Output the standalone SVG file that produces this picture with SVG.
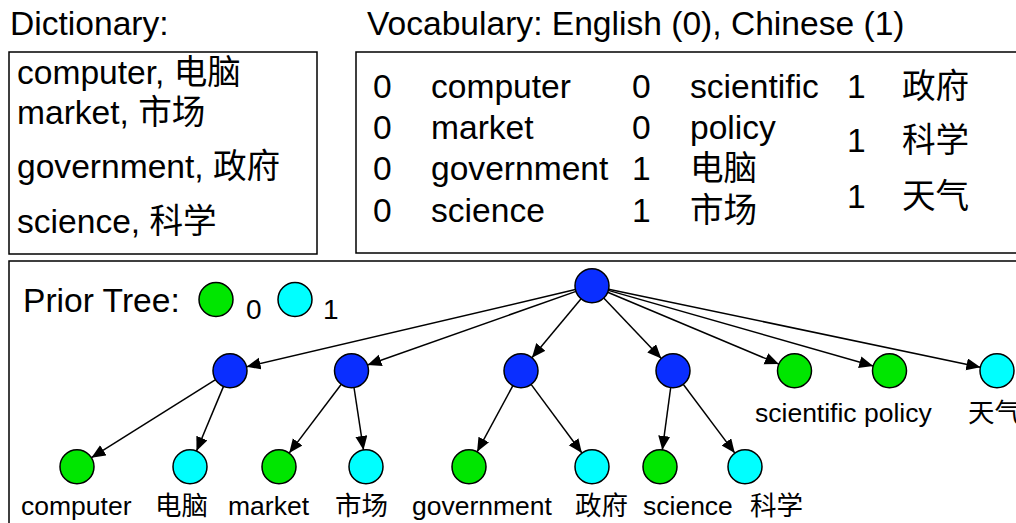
<svg xmlns="http://www.w3.org/2000/svg" width="1016" height="523" viewBox="0 0 1016 523">
<style>
text{font-family:"Liberation Sans","Noto Sans CJK SC",sans-serif;fill:#000}
.big{font-size:33.6px}
.lbl{font-size:26.5px}
.leg{font-size:28px}
.box{fill:#fff;stroke:#000;stroke-width:1.5}
.blue{fill:#0a2eff;stroke:#000;stroke-width:1.5}
.green{fill:#00e600;stroke:#000;stroke-width:1.5}
.cyan{fill:#00ffff;stroke:#000;stroke-width:1.5}
#edges line{stroke:#000;stroke-width:1.5;marker-end:url(#arr)}
</style>
<defs>
<marker id="arr" markerUnits="userSpaceOnUse" markerWidth="16" markerHeight="14" refX="14" refY="6" orient="auto">
<path d="M0,0 L14,6 L0,12 z" fill="#000"/>
</marker>
</defs>
<rect width="1016" height="523" fill="#fff"/>
<text class="big" x="10" y="35">Dictionary:</text>
<text class="big" x="367" y="35">Vocabulary: English (0), Chinese (1)</text>
<g id="dictionary">
<rect class="box" x="9" y="52" width="308" height="202"/>
<text class="big" x="17" y="84">computer, 电脑</text>
<text class="big" x="17" y="124">market, 市场</text>
<text class="big" x="17" y="178">government, 政府</text>
<text class="big" x="17" y="233">science, 科学</text>
</g>
<g id="vocabulary">
<rect class="box" x="356" y="52" width="680" height="201"/>
<text class="big" x="373" y="98">0</text><text class="big" x="431" y="98">computer</text>
<text class="big" x="373" y="139">0</text><text class="big" x="431" y="139">market</text>
<text class="big" x="373" y="180">0</text><text class="big" x="431" y="180">government</text>
<text class="big" x="373" y="222">0</text><text class="big" x="431" y="222">science</text>
<text class="big" x="632" y="98">0</text><text class="big" x="690" y="98">scientific</text>
<text class="big" x="632" y="139">0</text><text class="big" x="690" y="139">policy</text>
<text class="big" x="632" y="180">1</text><text class="big" x="690" y="180">电脑</text>
<text class="big" x="632" y="222">1</text><text class="big" x="690" y="222">市场</text>
<text class="big" x="847" y="98">1</text><text class="big" x="902" y="98">政府</text>
<text class="big" x="847" y="152">1</text><text class="big" x="902" y="152">科学</text>
<text class="big" x="847" y="208">1</text><text class="big" x="902" y="208">天气</text>
</g>
<g id="prior-tree-frame">
<rect class="box" x="9" y="261" width="1030" height="290"/>
<text class="big" x="23" y="312">Prior Tree:</text>
<circle class="green" cx="216" cy="299.5" r="17"/>
<text class="leg" x="246" y="319">0</text>
<circle class="cyan" cx="295" cy="299.5" r="17"/>
<text class="leg" x="323" y="319">1</text>
</g>
<g id="edges">
<line x1="575.4" y1="289.6" x2="246.6" y2="366.8"/>
<line x1="576.0" y1="291.4" x2="367.5" y2="365.0"/>
<line x1="581.1" y1="298.7" x2="531.9" y2="357.7"/>
<line x1="603.7" y1="298.0" x2="661.3" y2="358.4"/>
<line x1="607.7" y1="292.3" x2="778.8" y2="364.1"/>
<line x1="608.3" y1="290.4" x2="873.2" y2="366.0"/>
<line x1="608.6" y1="289.2" x2="980.4" y2="367.2"/>
<line x1="215.6" y1="379.7" x2="91.4" y2="457.7"/>
<line x1="223.5" y1="386.4" x2="196.5" y2="451.0"/>
<line x1="341.3" y1="384.3" x2="289.2" y2="453.1"/>
<line x1="354.0" y1="387.5" x2="363.5" y2="449.9"/>
<line x1="512.9" y1="385.6" x2="477.1" y2="451.8"/>
<line x1="531.1" y1="384.4" x2="581.9" y2="453.0"/>
<line x1="670.7" y1="387.5" x2="662.3" y2="449.9"/>
<line x1="683.2" y1="384.3" x2="734.8" y2="453.1"/>
</g>
<g id="root"><circle class="blue" cx="592" cy="285.7" r="17"/></g>
<g id="n1"><circle class="blue" cx="230" cy="370.7" r="17"/></g>
<g id="n2"><circle class="blue" cx="351.5" cy="370.7" r="17"/></g>
<g id="n3"><circle class="blue" cx="521" cy="370.7" r="17"/></g>
<g id="n4"><circle class="blue" cx="673" cy="370.7" r="17"/></g>
<g id="scientific"><circle class="green" cx="794.5" cy="370.7" r="17"/><text class="lbl" x="755" y="422">scientific</text></g>
<g id="policy"><circle class="green" cx="889.5" cy="370.7" r="17"/><text class="lbl" x="864" y="422">policy</text></g>
<g id="tianqi"><circle class="cyan" cx="997" cy="370.7" r="17"/><text class="lbl" x="968" y="422">天气</text></g>
<g id="computer"><circle class="green" cx="77" cy="466.7" r="17"/><text class="lbl" x="21" y="515">computer</text></g>
<g id="diannao"><circle class="cyan" cx="190" cy="466.7" r="17"/><text class="lbl" x="155" y="515">电脑</text></g>
<g id="market"><circle class="green" cx="279" cy="466.7" r="17"/><text class="lbl" x="228" y="515">market</text></g>
<g id="shichang"><circle class="cyan" cx="366" cy="466.7" r="17"/><text class="lbl" x="335" y="515">市场</text></g>
<g id="government"><circle class="green" cx="469" cy="466.7" r="17"/><text class="lbl" x="412" y="515">government</text></g>
<g id="zhengfu"><circle class="cyan" cx="592" cy="466.7" r="17"/><text class="lbl" x="575" y="515">政府</text></g>
<g id="science"><circle class="green" cx="660" cy="466.7" r="17"/><text class="lbl" x="643" y="515">science</text></g>
<g id="kexue"><circle class="cyan" cx="745" cy="466.7" r="17"/><text class="lbl" x="750" y="515">科学</text></g>
</svg>
